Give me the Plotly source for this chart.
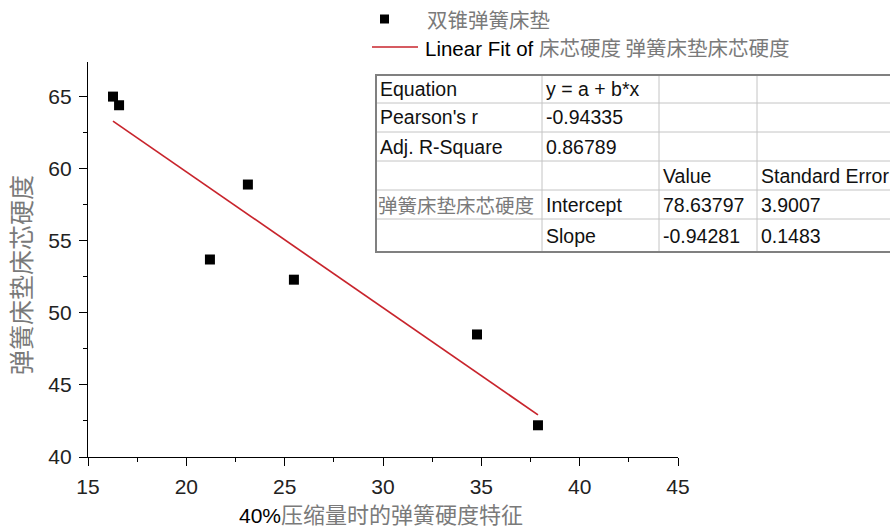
import plotly.graph_objects as go

# ---- data ----
x_vals = [16.27, 16.58, 21.2, 23.13, 25.47, 34.78, 37.88]
y_vals = [65.0, 64.4, 53.7, 58.9, 52.3, 48.5, 42.2]
intercept = 78.63797
slope = -0.94281
x_ticks = [15, 20, 25, 30, 35, 40, 45]
y_ticks = [40, 45, 50, 55, 60, 65]
series_name = "双锥弹簧床垫"
fit_prefix = "Linear Fit of "
fit_name_cn = "床芯硬度 弹簧床垫床芯硬度"
x_title_num = "40%"
x_title_cn = "压缩量时的弹簧硬度特征"
y_title = "弹簧床垫床芯硬度"
table_rows = [
    ["Equation", "y = a + b*x", "", ""],
    ["Pearson's r", "-0.94335", "", ""],
    ["Adj. R-Square", "0.86789", "", ""],
    ["", "", "Value", "Standard Error"],
    ["弹簧床垫床芯硬度", "Intercept", "78.63797", "3.9007"],
    ["", "Slope", "-0.94281", "0.1483"],
]

# ---- layout geometry (pixels) ----
W, H = 890, 530
PL, PR, PT, PB = 88, 678, 62, 457
def px(x):
    return (x - PL) / (PR - PL)
def py(y):
    return (PB - y) / (PB - PT)

SANS = "Liberation Sans, Arial, sans-serif"
CJK = "Noto Sans CJK SC, sans-serif"
GRAY_CN = "#7a7a7a"

fig = go.Figure()
fig.add_trace(go.Scatter(
    x=x_vals, y=y_vals, mode="markers",
    marker=dict(symbol="square", size=10, color="black"),
    name=series_name, showlegend=False, cliponaxis=False))
fx = [min(x_vals), max(x_vals)]
fy = [intercept + slope * v for v in fx]
fig.add_trace(go.Scatter(
    x=fx, y=fy, mode="lines", line=dict(color="#c8242c", width=1.7),
    name=fit_prefix + fit_name_cn, showlegend=False))

shapes = []
annotations = []

# legend (manual)
shapes.append(dict(type="rect", xref="paper", yref="paper",
                   x0=px(380), x1=px(389), y0=py(23.5), y1=py(14.5),
                   fillcolor="black", line=dict(width=0)))
shapes.append(dict(type="line", xref="paper", yref="paper",
                   x0=px(372), x1=px(418), y0=py(47), y1=py(47),
                   line=dict(color="#c8242c", width=1.7)))
annotations.append(dict(xref="paper", yref="paper", x=px(425), y=py(19),
                        xanchor="left", yanchor="middle", showarrow=False,
                        text=series_name, font=dict(family=CJK, size=20.5, color=GRAY_CN)))
annotations.append(dict(xref="paper", yref="paper", x=px(423), y=py(47),
                        xanchor="left", yanchor="middle", showarrow=False,
                        text=fit_prefix + "<span style='font-family:Noto Sans CJK SC;color:%s'>%s</span>" % (GRAY_CN, fit_name_cn),
                        font=dict(family=SANS, size=20.5, color="black")))

# table
col_x = [376, 542, 659, 757, 905]
row_y = [75, 103, 132, 161, 190, 219, 252]
for yy in row_y[1:-1]:
    shapes.append(dict(type="line", xref="paper", yref="paper",
                       x0=px(col_x[0]), x1=px(col_x[-1]), y0=py(yy), y1=py(yy),
                       line=dict(color="#c4c4c4", width=1)))
for xx in col_x[1:-1]:
    shapes.append(dict(type="line", xref="paper", yref="paper",
                       x0=px(xx), x1=px(xx), y0=py(row_y[0]), y1=py(row_y[-1]),
                       line=dict(color="#c4c4c4", width=1)))
shapes.append(dict(type="rect", xref="paper", yref="paper",
                   x0=px(col_x[0]), x1=px(col_x[-1]), y0=py(row_y[-1]), y1=py(row_y[0]),
                   line=dict(color="#808080", width=2)))
for r, row in enumerate(table_rows):
    yc = (row_y[r] + row_y[r + 1]) / 2
    for c, txt in enumerate(row):
        if not txt:
            continue
        is_cn = any(ord(ch) > 0x2e80 for ch in txt)
        annotations.append(dict(
            xref="paper", yref="paper", x=px(col_x[c] + (0 if is_cn else 2)), y=py(yc),
            xanchor="left", yanchor="middle", showarrow=False, text=txt,
            font=dict(family=CJK if is_cn else SANS, size=19.5,
                      color=GRAY_CN if is_cn else "#111")))

# axis titles
annotations.append(dict(xref="paper", yref="paper", x=px(20), y=py(275),
                        xanchor="center", yanchor="middle", showarrow=False,
                        textangle=-90, text=y_title,
                        font=dict(family=CJK, size=25, color=GRAY_CN)))
annotations.append(dict(xref="paper", yref="paper", x=px(381), y=py(513),
                        xanchor="center", yanchor="middle", showarrow=False,
                        text=x_title_num + "<span style='font-family:Noto Sans CJK SC;color:%s;font-size:22px'>%s</span>" % (GRAY_CN, x_title_cn),
                        font=dict(family=SANS, size=21, color="black")))

fig.update_layout(
    width=W, height=H,
    margin=dict(l=PL, r=W - PR, t=PT, b=H - PB, pad=0),
    paper_bgcolor="white", plot_bgcolor="white",
    shapes=shapes, annotations=annotations,
    xaxis=dict(range=[15, 45], tickvals=x_ticks, ticks="outside", ticklen=8,
               tickwidth=1.3, tickcolor="black", showline=True, linecolor="black",
               linewidth=1.3, showgrid=False, zeroline=False, ticklabelstandoff=3,
               tickfont=dict(family=SANS, size=21, color="#222"),
               minor=dict(dtick=2.5, tick0=15, ticks="outside", ticklen=4, tickcolor="black", tickwidth=1)),
    yaxis=dict(range=[40, 67.4], tickvals=y_ticks, ticks="outside", ticklen=8,
               tickwidth=1.3, tickcolor="black", showline=True, linecolor="black",
               linewidth=1.3, showgrid=False, zeroline=False, ticklabelstandoff=3,
               tickfont=dict(family=SANS, size=21, color="#222"),
               minor=dict(dtick=2.5, tick0=40, ticks="outside", ticklen=4, tickcolor="black", tickwidth=1)),
)

fig.write_html("out.html")
